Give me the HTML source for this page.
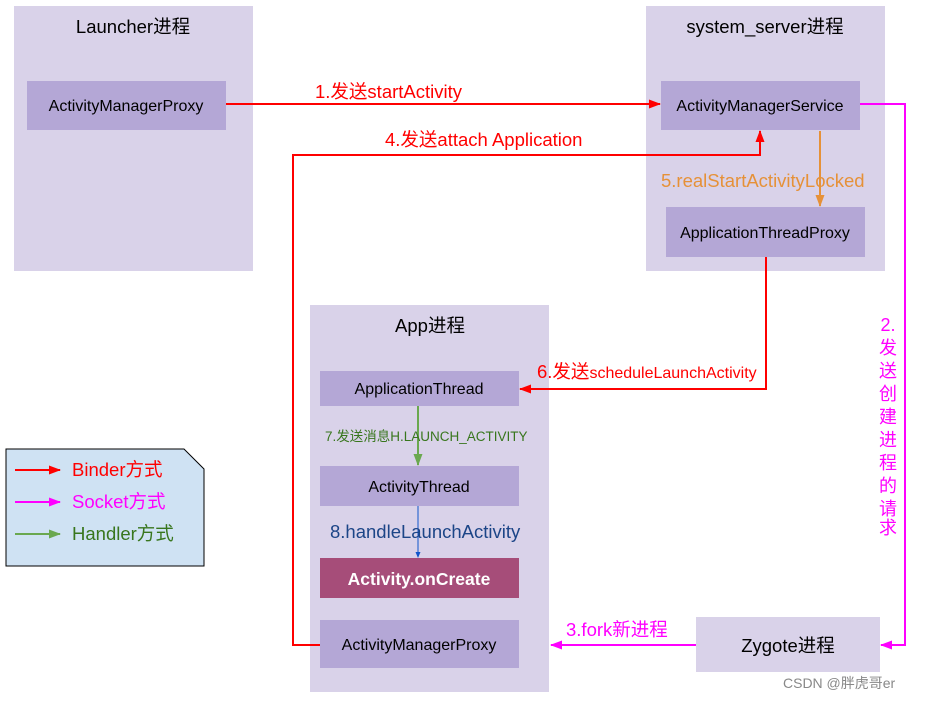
<!DOCTYPE html>
<html><head><meta charset="utf-8"><style>
html,body{margin:0;padding:0;background:#fff;}
svg{display:block;font-family:"Liberation Sans","Noto Sans CJK SC",sans-serif;}
</style></head><body>
<svg width="926" height="701" viewBox="0 0 926 701" xmlns="http://www.w3.org/2000/svg">
<defs>
<marker id="r" markerWidth="12" markerHeight="9" refX="11" refY="4.5" orient="auto" markerUnits="userSpaceOnUse"><path d="M0,0L12,4.5L0,9z" fill="#ff0000"/></marker>
<marker id="m" markerWidth="12" markerHeight="9" refX="11" refY="4.5" orient="auto" markerUnits="userSpaceOnUse"><path d="M0,0L12,4.5L0,9z" fill="#ff00ff"/></marker>
<marker id="o" markerWidth="12" markerHeight="9" refX="11" refY="4.5" orient="auto" markerUnits="userSpaceOnUse"><path d="M0,0L12,4.5L0,9z" fill="#e69138"/></marker>
<marker id="g" markerWidth="12" markerHeight="9" refX="11" refY="4.5" orient="auto" markerUnits="userSpaceOnUse"><path d="M0,0L12,4.5L0,9z" fill="#6aa84f"/></marker>
<marker id="b" markerWidth="6" markerHeight="5" refX="5" refY="2.5" orient="auto" markerUnits="userSpaceOnUse"><path d="M0,0L6,2.5L0,5z" fill="#1155cc"/></marker>
</defs>
<rect x="14" y="6" width="239" height="265" fill="#d9d2e9"/>
<rect x="646" y="6" width="239" height="265" fill="#d9d2e9"/>
<rect x="310" y="305" width="239" height="387" fill="#d9d2e9"/>
<g font-size="18.5" fill="#000" text-anchor="middle">
<text x="133" y="33">Launcher进程</text>
<text x="765" y="33">system_server进程</text>
<text x="430" y="332">App进程</text>
</g>
<g fill="#b4a7d6">
<rect x="27" y="81" width="199" height="49"/>
<rect x="661" y="81" width="199" height="49"/>
<rect x="666" y="207" width="199" height="50"/>
<rect x="320" y="371" width="199" height="35"/>
<rect x="320" y="466" width="199" height="40"/>
<rect x="320" y="620" width="199" height="48"/>
</g>
<rect x="320" y="558" width="199" height="40" fill="#a64d79"/>
<rect x="696" y="617" width="184" height="55" fill="#d9d2e9"/>
<g font-size="16" fill="#000" text-anchor="middle">
<text x="126" y="111">ActivityManagerProxy</text>
<text x="760" y="111">ActivityManagerService</text>
<text x="765" y="238">ApplicationThreadProxy</text>
<text x="419" y="394">ApplicationThread</text>
<text x="419" y="492">ActivityThread</text>
<text x="419" y="650">ActivityManagerProxy</text>
</g>
<text x="419" y="585" font-size="17.5" font-weight="bold" fill="#fff" text-anchor="middle">Activity.onCreate</text>
<text x="788" y="652" font-size="18.5" fill="#000" text-anchor="middle">Zygote进程</text>
<g fill="none" stroke-width="2">
<path d="M226,104H660" stroke="#ff0000" marker-end="url(#r)"/>
<path d="M320,645H293V155H760V131" stroke="#ff0000" marker-end="url(#r)"/>
<path d="M820,131V206" stroke="#e69138" marker-end="url(#o)"/>
<path d="M766,257V389H520" stroke="#ff0000" marker-end="url(#r)"/>
<path d="M860,104H905V645H881" stroke="#ff00ff" marker-end="url(#m)"/>
<path d="M696,645H551" stroke="#ff00ff" marker-end="url(#m)"/>
<path d="M418,406V465" stroke="#6aa84f" marker-end="url(#g)"/>
<path d="M418,506V557" stroke="#1155cc" stroke-width="1" marker-end="url(#b)"/>
</g>
<g font-size="18.5">
<text x="315" y="98" fill="#ff0000">1.发送startActivity</text>
<text x="385" y="146" fill="#ff0000">4.发送attach Application</text>
<text x="661" y="187" fill="#e69138">5.realStartActivityLocked</text>
<text x="537" y="378" fill="#ff0000">6.发送<tspan font-size="16">scheduleLaunchActivity</tspan></text>
<text x="566" y="636" fill="#ff00ff">3.fork新进程</text>
<text x="330" y="538" fill="#1c4587">8.handleLaunchActivity</text>
</g>
<text x="325" y="441" font-size="13.5" fill="#38761d">7.发送消息H.LAUNCH_ACTIVITY</text>
<g font-size="18" fill="#ff00ff" text-anchor="middle">
<text x="888" y="331">2.</text>
<text x="888" y="354">发</text>
<text x="888" y="377">送</text>
<text x="888" y="400">创</text>
<text x="888" y="423">建</text>
<text x="888" y="446">进</text>
<text x="888" y="469">程</text>
<text x="888" y="492">的</text>
<text x="888" y="515">请</text>
<text x="888" y="534">求</text>
</g>
<path d="M6,449H184L204,469V566H6Z" fill="#cfe2f3" stroke="#000" stroke-width="1"/>
<path d="M15,470H60" stroke="#ff0000" stroke-width="2" marker-end="url(#r)"/>
<path d="M15,502H60" stroke="#ff00ff" stroke-width="2" marker-end="url(#m)"/>
<path d="M15,534H60" stroke="#6aa84f" stroke-width="2" marker-end="url(#g)"/>
<g font-size="18.5">
<text x="72" y="476" fill="#ff0000">Binder方式</text>
<text x="72" y="508" fill="#ff00ff">Socket方式</text>
<text x="72" y="540" fill="#38761d">Handler方式</text>
</g>
<text x="783" y="688" font-size="14" fill="#888">CSDN @胖虎哥er</text>
</svg>
</body></html>
